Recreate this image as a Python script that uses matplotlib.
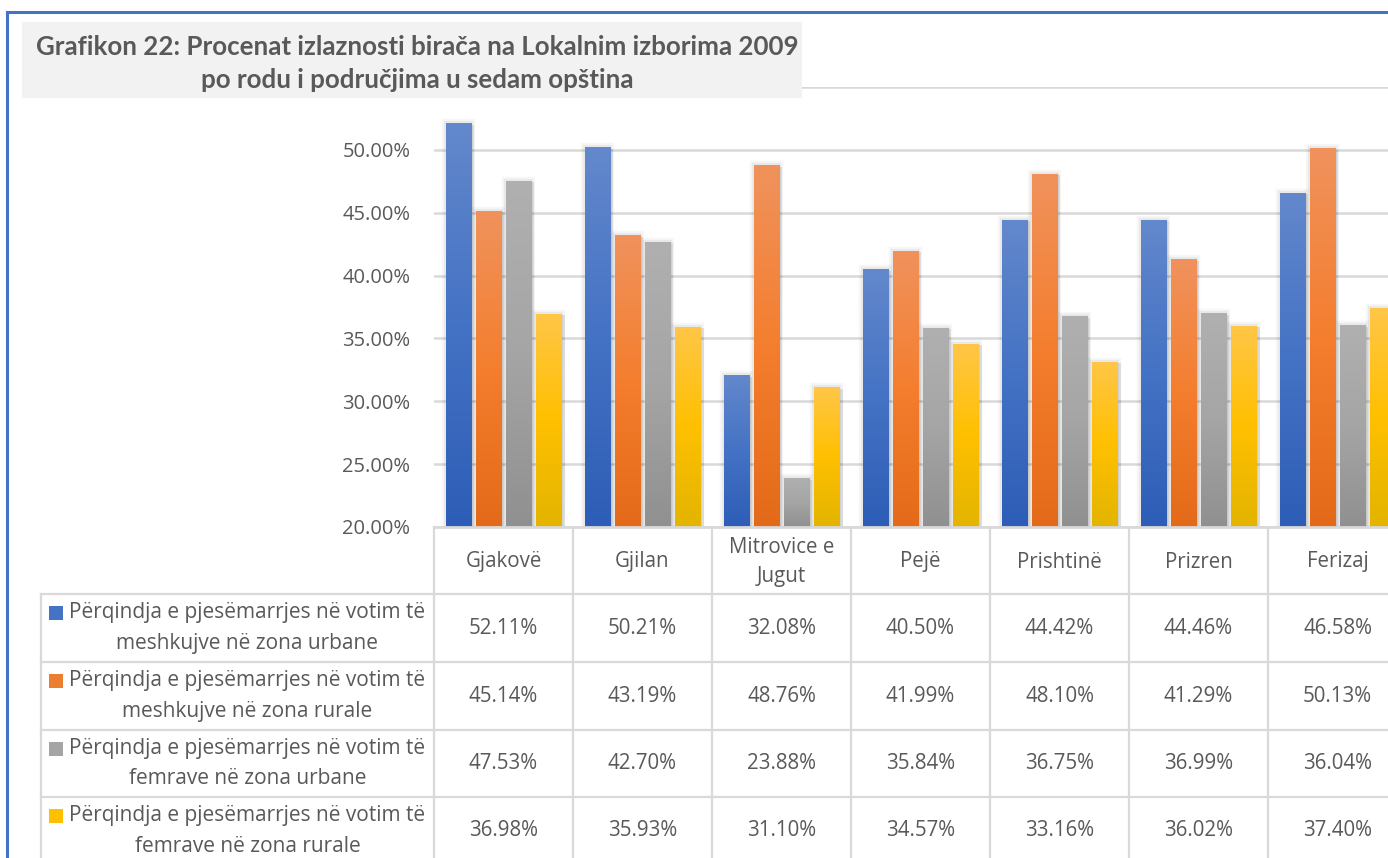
import numpy as np
import matplotlib
matplotlib.use("Agg")
import matplotlib.pyplot as plt
from matplotlib.colors import LinearSegmentedColormap
from matplotlib.patches import Rectangle
from matplotlib.lines import Line2D
from matplotlib.ticker import FuncFormatter, MultipleLocator
import matplotlib.patheffects as pe
import matplotlib.transforms as mtransforms

# ---------------- data ----------------
categories = ["Gjakovë", "Gjilan", "Mitrovice e\nJugut", "Pejë", "Prishtinë", "Prizren", "Ferizaj"]
series_labels = [
    "Përqindja e pjesëmarrjes në votim të\nmeshkujve në zona urbane",
    "Përqindja e pjesëmarrjes në votim të\nmeshkujve në zona rurale",
    "Përqindja e pjesëmarrjes në votim të\nfemrave në zona urbane",
    "Përqindja e pjesëmarrjes në votim të\nfemrave në zona rurale",
]
male_urban = [52.11, 50.21, 32.08, 40.50, 44.42, 44.46, 46.58]
male_rural = [45.14, 43.19, 48.76, 41.99, 48.10, 41.29, 50.13]
female_urban = [47.53, 42.70, 23.88, 35.84, 36.75, 36.99, 36.04]
female_rural = [36.98, 35.93, 31.10, 34.57, 33.16, 36.02, 37.40]
series_values = [male_urban, male_rural, female_urban, female_rural]
title_text = ("Grafikon 22: Procenat izlaznosti birača na Lokalnim izborima 2009\n"
              "po rodu i područjima u sedam opština")
y_min, y_max, y_step = 20, 55, 5
y_label_max = 50  # top tick label (55%) sits hidden behind the title box

# ---------------- style ----------------
# (bottom, middle, top) gradient stops per series
grad_colors = [
    ("#2D5DB6", "#4472C4", "#6388CC"),
    ("#E36A18", "#F47E2E", "#F0925D"),
    ("#909090", "#A5A5A5", "#B0B0B0"),
    ("#E3B400", "#FFC000", "#FFC648"),
]
key_colors = ["#4472C4", "#ED7D31", "#A5A5A5", "#FFC000"]
txt_col = "#595959"
grid_col = "#D9D9D9"
W, H = 1388, 858
plt.rcParams["font.family"] = ["Open Sans", "DejaVu Sans"]

def fx(px):
    return px / W

def fy(py):
    return 1 - py / H

fig = plt.figure(figsize=(W / 100, H / 100), dpi=100)
fig.patch.set_facecolor("white")

ax_left, ax_right, ax_top, ax_bot = 434, 1407, 87, 527
ax = fig.add_axes([fx(ax_left), fy(ax_bot), (ax_right - ax_left) / W, (ax_bot - ax_top) / H])
ax.set_facecolor("none")

x = np.arange(len(categories))
bar_w = 0.18
spacing = 0.216
for k, vals in enumerate(series_values):
    cmap = LinearSegmentedColormap.from_list(f"g{k}", list(grad_colors[k]))
    bars = ax.bar(x + (k - 1.5) * spacing, vals, width=bar_w, bottom=0,
                  color=grad_colors[k][1], zorder=3, linewidth=0)
    for b in bars:
        b.set_path_effects([
            pe.SimplePatchShadow(offset=(2.5, -1.0), shadow_rgbFace=(0, 0, 0), alpha=0.10),
            pe.withStroke(linewidth=6, foreground=(0, 0, 0, 0.035)),
            pe.withStroke(linewidth=3, foreground=(0, 0, 0, 0.05)),
            pe.Normal(),
        ])
        x0 = b.get_x()
        x1 = x0 + b.get_width()
        top = b.get_height()
        grad = np.linspace(0, 1, 256).reshape(-1, 1)
        im = ax.imshow(grad, extent=[x0, x1, y_min, top], origin="lower",
                       cmap=cmap, aspect="auto", zorder=4, interpolation="bilinear")
        im.set_clip_path(b)

ax.set_xlim(-0.5, len(categories) - 0.5)
ax.set_ylim(y_min, y_max)
ax.yaxis.set_major_locator(MultipleLocator(y_step))
ax.yaxis.set_major_formatter(FuncFormatter(
    lambda v, p: f"{v:.2f}%" if v <= y_label_max + 1e-9 else ""))
ax.grid(axis="y", color=grid_col, linewidth=1.8, zorder=0)
ax.set_axisbelow(True)
for s in ["left", "right", "top"]:
    ax.spines[s].set_visible(False)
ax.spines["bottom"].set_color(grid_col)
ax.spines["bottom"].set_linewidth(2)
ax.spines["bottom"].set_zorder(5)
ax.set_xticks([])
ax.tick_params(axis="y", length=0, pad=17, labelsize=14.5, labelcolor=txt_col)

# ---------------- data table ----------------
blend = mtransforms.blended_transform_factory(ax.transData, fig.transFigure)
row_lines = [594, 662, 730, 797, 865]
tab_left = 41
lw_tab = 1.6
# vertical category lines
for i in range(len(categories) + 1):
    fig.add_artist(Line2D([i - 0.5, i - 0.5], [fy(ax_bot), fy(H + 5)], transform=blend,
                          color=grid_col, lw=lw_tab, zorder=2))
# horizontal lines
for ry in row_lines:
    fig.add_artist(Line2D([fx(tab_left), fx(W + 30)], [fy(ry), fy(ry)],
                          transform=fig.transFigure, color=grid_col, lw=lw_tab, zorder=2))
fig.add_artist(Line2D([fx(tab_left), fx(tab_left)], [fy(row_lines[0]), fy(H + 5)],
                      transform=fig.transFigure, color=grid_col, lw=lw_tab, zorder=2))

# category labels
for i, c in enumerate(categories):
    fig.text(i, fy((ax_bot + row_lines[0]) / 2 + 1.5), c, transform=blend, ha="center",
             va="center", fontsize=14.8, color=txt_col, linespacing=1.55)

# values
for r, vals in enumerate(series_values):
    cy = (row_lines[r] + row_lines[r + 1]) / 2
    for i, v in enumerate(vals):
        fig.text(i, fy(cy), f"{v:.2f}%", transform=blend, ha="center", va="center",
                 fontsize=14.8, color=txt_col)

# row headers with legend keys
fig.canvas.draw()
renderer = fig.canvas.get_renderer()
cell_cx = (tab_left + ax_left) / 2
key_sz = 14
gap = 6
for r, lab in enumerate(series_labels):
    cy = (row_lines[r] + row_lines[r + 1]) / 2
    t = fig.text(0, fy(cy), lab, ha="center", va="center", fontsize=15, color=txt_col,
                 multialignment="center", linespacing=1.6)
    bb = t.get_window_extent(renderer)
    w = bb.width
    total = key_sz + gap + w
    start = cell_cx - total / 2
    t.set_x(fx(start + key_sz + gap + w / 2))
    line1_y = cy - 15
    fig.add_artist(Rectangle((fx(start), fy(line1_y + key_sz / 2)), key_sz / W, key_sz / H,
                             transform=fig.transFigure, facecolor=key_colors[r],
                             edgecolor="none", zorder=3))

# ---------------- title box & border ----------------
fig.add_artist(Rectangle((fx(22), fy(98)), (802 - 22) / W, (98 - 22) / H,
                         transform=fig.transFigure, facecolor="#F2F2F2",
                         edgecolor="none", zorder=10))
fig.text(fx(417), fy(63.5), title_text, ha="center", va="center", fontsize=18.6,
         fontweight="bold", color=txt_col, family=["Lato", "DejaVu Sans"],
         linespacing=1.42, zorder=11)

fig.add_artist(Line2D([fx(7), fx(7)], [fy(12), fy(H + 5)], transform=fig.transFigure,
                      color="#4472C4", lw=2.2, zorder=12))
fig.add_artist(Line2D([fx(7), fx(W + 5)], [fy(12), fy(12)], transform=fig.transFigure,
                      color="#4472C4", lw=2.2, zorder=12))

fig.savefig("out.png", dpi=100)
